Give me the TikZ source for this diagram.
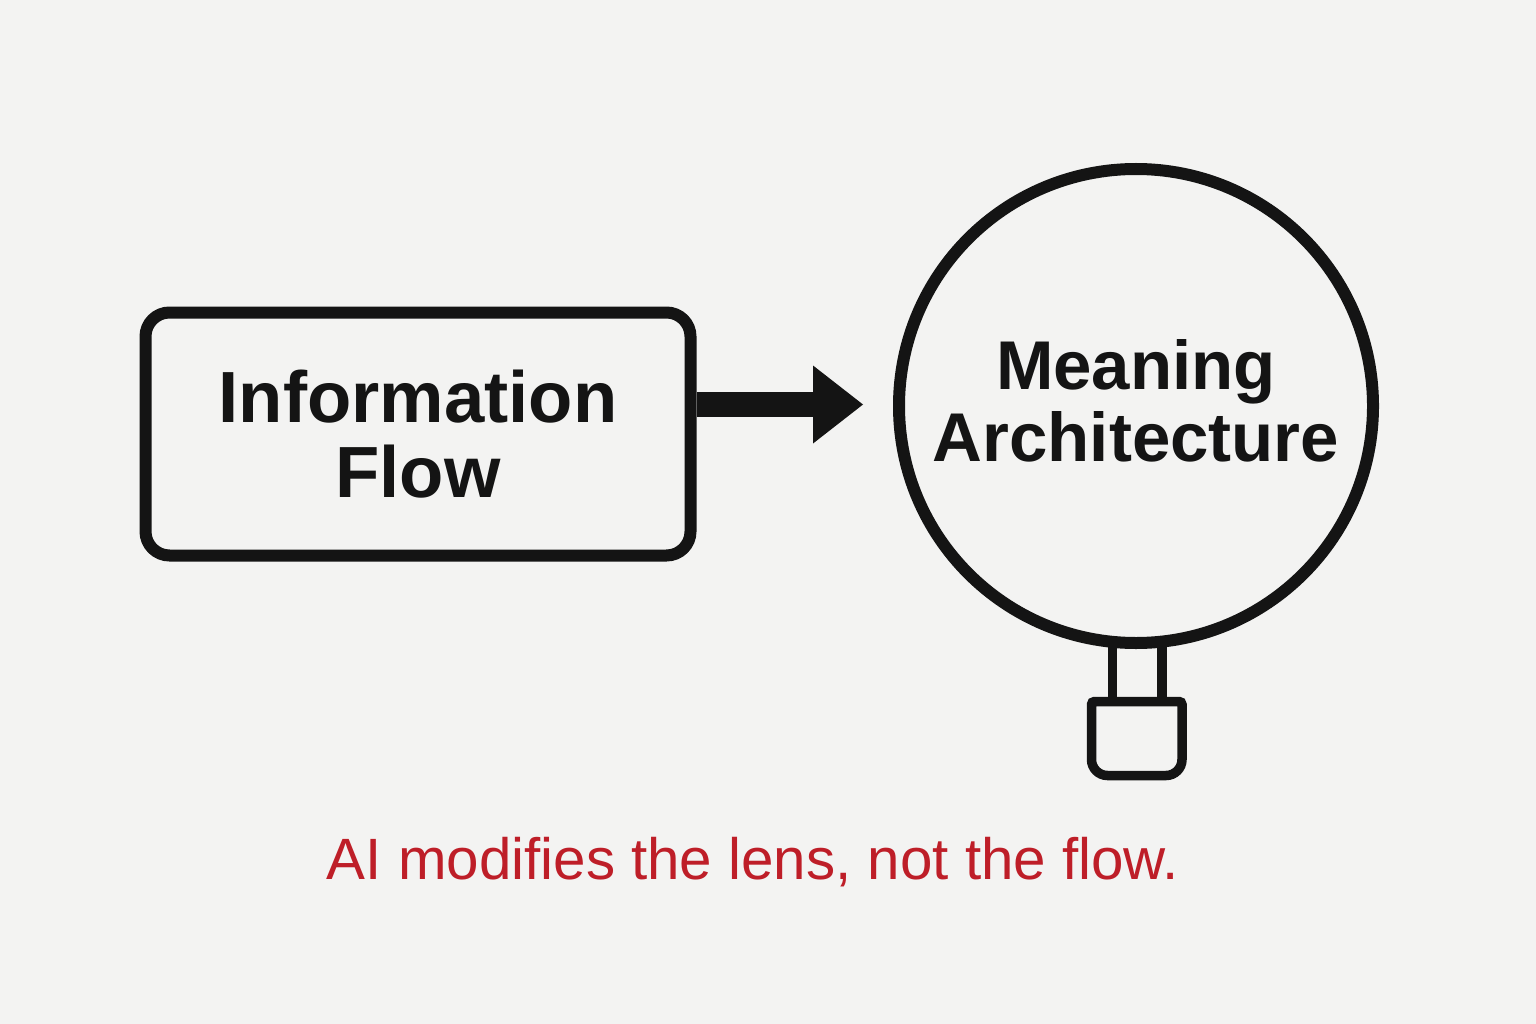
\documentclass[tikz,border=0pt]{standalone}
\usepackage{fontspec}
\setmainfont{Liberation Sans}
\usetikzlibrary{arrows.meta}
\definecolor{bg}{RGB}{243,243,242}
\definecolor{ink}{RGB}{20,20,20}
\definecolor{capred}{RGB}{190,30,40}
\begin{document}
\begin{tikzpicture}[x=1pt,y=-1pt,
  flowbox/.style={draw=ink, line width=12pt, rounded corners=24pt, minimum width=545pt, minimum height=243pt, inner sep=0pt, align=center, font=\bfseries\fontsize{72.5}{75}\selectfont, text=ink},
  lens/.style={draw=ink, line width=12pt, circle, minimum size=474pt, inner sep=0pt},
  lenstext/.style={align=center, font=\bfseries\fontsize{69}{72}\selectfont, text=ink, inner sep=0pt},
  handle/.style={draw=ink, line width=9.5pt},
  bigarrow/.style={draw=ink, line width=25pt, -{Triangle[length=50pt,width=78pt,line width=0pt]}},
  caption/.style={text=capred, font=\fontsize{58.3}{60}\selectfont, inner sep=0pt}]
\fill[bg] (0,0) rectangle (1536,1024);
\useasboundingbox (0,0) rectangle (1536,1024);

\node[flowbox] (info) at (418,434) {Information\\Flow};
\node[lens] (meaning) at (1136,406) {};
\node[lenstext] (meaningtext) at (1136,401) {Meaning\\Architecture};

\coordinate (tip) at (863,404.5);
\draw[bigarrow] (info.east |- tip) -- (tip);

% handle of the lens
\coordinate (hbl) at (1112.5,701.5);
\coordinate (hbr) at (1162,701.5);
\draw[handle] (hbl |- meaning.south) ++(0,-5) -- (hbl);
\draw[handle] (hbr |- meaning.south) ++(0,-5) -- (hbr);
\draw[handle, rounded corners=3pt] (1137,701.5) -- (1182,701.5) -- (1182,740)
  [rounded corners=16pt] -- (1182,775.5) -- (1091.5,775.5) -- (1091.5,740)
  [rounded corners=3pt] -- (1091.5,701.5) -- cycle;

\node[caption, anchor=base] (cap) at (753,879) {AI modifies the lens, not the flow.};
\end{tikzpicture}
\end{document}
